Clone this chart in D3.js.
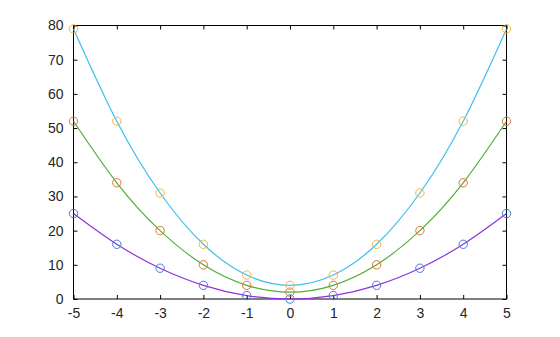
<!DOCTYPE html>
<html>
<head>
<meta charset="utf-8">
<script src="https://cdn.jsdelivr.net/npm/d3@7"></script>
<style>
  body { margin: 0; background: #fff; }
  svg { display: block; font-family: "Liberation Sans", Arial, sans-serif; }
</style>
</head>
<body>
<svg width="560" height="337"></svg>
<script>
// x positions of the samples
const xs = [-5, -4, -3, -2, -1, 0, 1, 2, 3, 4, 5];
// values
const lowSeries = [25, 16, 9, 4, 1, 0, 1, 4, 9, 16, 25];
const midSeries = [52, 34, 20, 10, 4, 2, 4, 10, 20, 34, 52];
const highSeries = [79, 52, 31, 16, 7, 4, 7, 16, 31, 52, 79];
const xTicks = [-5, -4, -3, -2, -1, 0, 1, 2, 3, 4, 5];
const yTicks = [0, 10, 20, 30, 40, 50, 60, 70, 80];

const series = [
  { values: lowSeries, line: '#9030e0', mark: '#3f7fd4' },
  { values: midSeries, line: '#4fae34', mark: '#e4703a' },
  { values: highSeries, line: '#3fbfee', mark: '#f2b63c' }
];

const svg = d3.select('svg');
const margin = { top: 25.5, right: 53.5, bottom: 38, left: 73.5 };
const width = +svg.attr('width');
const height = +svg.attr('height');
const innerWidth = width - margin.left - margin.right;
const innerHeight = height - margin.top - margin.bottom;

const xScale = d3.scaleLinear().domain([-5, 5]).range([0, innerWidth]);
const yScale = d3.scaleLinear().domain([0, 80]).range([innerHeight, 0]);

const g = svg.append('g')
  .attr('transform', `translate(${margin.left},${margin.top})`);

// plain hyphen for negatives, like the original
const plain = d => String(d);

// axes with inward ticks on all four sides
const styleAxis = sel => {
  sel.select('.domain').remove();
  sel.selectAll('line').attr('stroke', '#000');
  sel.selectAll('text').attr('fill', '#262626').style('font-size', '14px');
};
// mirrored axes only need the tick marks
const ticksOnly = sel => {
  sel.select('.domain').remove();
  sel.selectAll('text').remove();
  sel.selectAll('line').attr('stroke', '#000');
};

g.append('g')
  .attr('transform', `translate(0,${innerHeight})`)
  .call(d3.axisBottom(xScale).tickValues(xTicks).tickSizeInner(-4).tickSizeOuter(0).tickPadding(9).tickFormat(plain))
  .call(styleAxis);

g.append('g')
  .call(d3.axisTop(xScale).tickValues(xTicks).tickSizeInner(-4).tickSizeOuter(0))
  .call(ticksOnly);

g.append('g')
  .call(d3.axisLeft(yScale).tickValues(yTicks).tickSizeInner(-4).tickSizeOuter(0).tickPadding(10).tickFormat(plain))
  .call(styleAxis);

g.append('g')
  .attr('transform', `translate(${innerWidth},0)`)
  .call(d3.axisRight(yScale).tickValues(yTicks).tickSizeInner(-4).tickSizeOuter(0))
  .call(ticksOnly);

// frame
g.append('rect')
  .attr('width', innerWidth)
  .attr('height', innerHeight)
  .attr('fill', 'none')
  .attr('stroke', '#000');

const line = d3.line()
  .x((d, i) => xScale(xs[i]))
  .y(d => yScale(d))
  .curve(d3.curveNatural);

// smooth curves through the samples
g.selectAll('.curve')
  .data(series)
  .enter()
  .append('path')
  .attr('class', 'curve')
  .attr('d', d => line(d.values))
  .attr('fill', 'none')
  .attr('stroke', d => d.line)
  .attr('stroke-width', 1.2);

// circle markers
series.forEach(s => {
  g.selectAll(null)
    .data(s.values)
    .enter()
    .append('circle')
    .attr('cx', (d, i) => xScale(xs[i]))
    .attr('cy', d => yScale(d))
    .attr('r', 4.2)
    .attr('fill', 'none')
    .attr('stroke', s.mark)
    .attr('stroke-width', 1);
});
</script>
</body>
</html>
